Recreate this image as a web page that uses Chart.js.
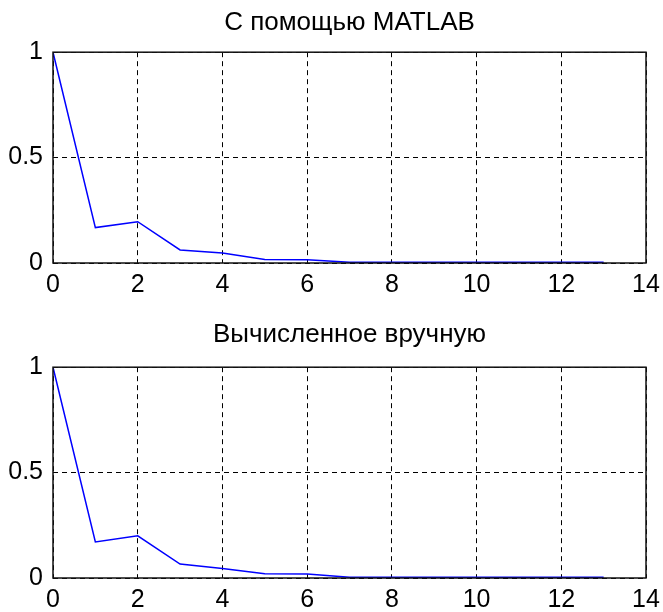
<!DOCTYPE html>
<html>
<head>
<meta charset="utf-8">
<script src="https://cdn.jsdelivr.net/npm/chart.js@4.4.0/dist/chart.umd.min.js"></script>
<style>
  html, body { margin: 0; padding: 0; background: #fff; }
  #wrap { position: relative; width: 663px; height: 612px; }
  .plot { position: absolute; left: 0; width: 663px; }
</style>
</head>
<body>
<div id="wrap">
  <div class="plot" style="top:0;height:300px"><canvas id="topChart"></canvas></div>
  <div class="plot" style="top:300px;height:312px"><canvas id="bottomChart"></canvas></div>
</div>
<script>
// lags and autocorrelation values
const lags = [0, 1, 2, 3, 4, 5, 6, 7, 8, 9, 10, 11, 12, 13];
const matlabAcf = [1, 0.168, 0.196, 0.062, 0.047, 0.017, 0.016, 0.004, 0.004, 0.003, 0.003, 0.003, 0.003, 0.003];
const manualAcf = [1, 0.171, 0.2, 0.066, 0.045, 0.02, 0.019, 0.004, 0.004, 0.003, 0.003, 0.003, 0.003, 0.003];
const xTicks = [0, 2, 4, 6, 8, 10, 12, 14];
const yTicks = [0, 0.5, 1];
const titles = ['С помощью MATLAB', 'Вычисленное вручную'];

const FONT = 'Liberation Sans, Arial, sans-serif';

// box around the axes, like MATLAB "box on"
const boxPlugin = {
  id: 'box',
  afterDraw(chart) {
    const { ctx, chartArea: a } = chart;
    ctx.save();
    ctx.strokeStyle = '#111';
    ctx.lineWidth = 1.5;
    ctx.strokeRect(a.left, a.top, a.right - a.left, a.bottom - a.top);
    ctx.restore();
  },
};

function makeChart(canvasId, title, values, titlePad, xAxisHeight) {
  const ctx = document.getElementById(canvasId).getContext('2d');
  return new Chart(ctx, {
    type: 'line',
    data: {
      datasets: [
        {
          data: lags.map((x, i) => ({ x: x, y: values[i] })),
          borderColor: '#0000ff',
          backgroundColor: 'rgba(0, 0, 0, 0)',
          borderWidth: 1.5,
          pointRadius: 0,
          tension: 0,
        },
      ],
    },
    options: {
      responsive: true,
      maintainAspectRatio: false,
      animation: false,
      events: [],
      layout: { padding: { left: 0, right: 17, top: 0, bottom: 0 } },
      plugins: {
        legend: { display: false },
        tooltip: { enabled: false },
        title: {
          display: true,
          text: title,
          fullSize: false,
          color: '#000',
          font: { family: FONT, size: 26, weight: 'normal' },
          padding: titlePad,
        },
      },
      scales: {
        x: {
          type: 'linear',
          min: 0,
          max: 14,
          afterBuildTicks: (s) => { s.ticks = xTicks.map((v) => ({ value: v })); },
          afterFit: (s) => {
            s.height = xAxisHeight;
            s.paddingLeft = 0;
            s.paddingRight = 0;
          },
          grid: { color: '#000', lineWidth: 1, drawTicks: false },
          border: { display: false, dash: [5, 4] },
          ticks: {
            color: '#000',
            padding: 7,
            maxRotation: 0,
            font: { family: FONT, size: 25 },
            callback: (v) => String(v),
          },
        },
        y: {
          min: 0,
          max: 1,
          afterBuildTicks: (s) => { s.ticks = yTicks.map((v) => ({ value: v })); },
          afterFit: (s) => {
            s.width = 53;
            s.paddingTop = 0;
            s.paddingBottom = 0;
          },
          grid: { color: '#000', lineWidth: 1, drawTicks: false },
          border: { display: false, dash: [5, 4] },
          ticks: {
            color: '#000',
            padding: 10,
            font: { family: FONT, size: 25 },
            callback: (v) => String(v),
          },
        },
      },
    },
    plugins: [boxPlugin],
  });
}

makeChart('topChart', titles[0], matlabAcf, { top: 7, bottom: 14 }, 37);
makeChart('bottomChart', titles[1], manualAcf, { top: 19, bottom: 17 }, 34);
</script>
</body>
</html>
